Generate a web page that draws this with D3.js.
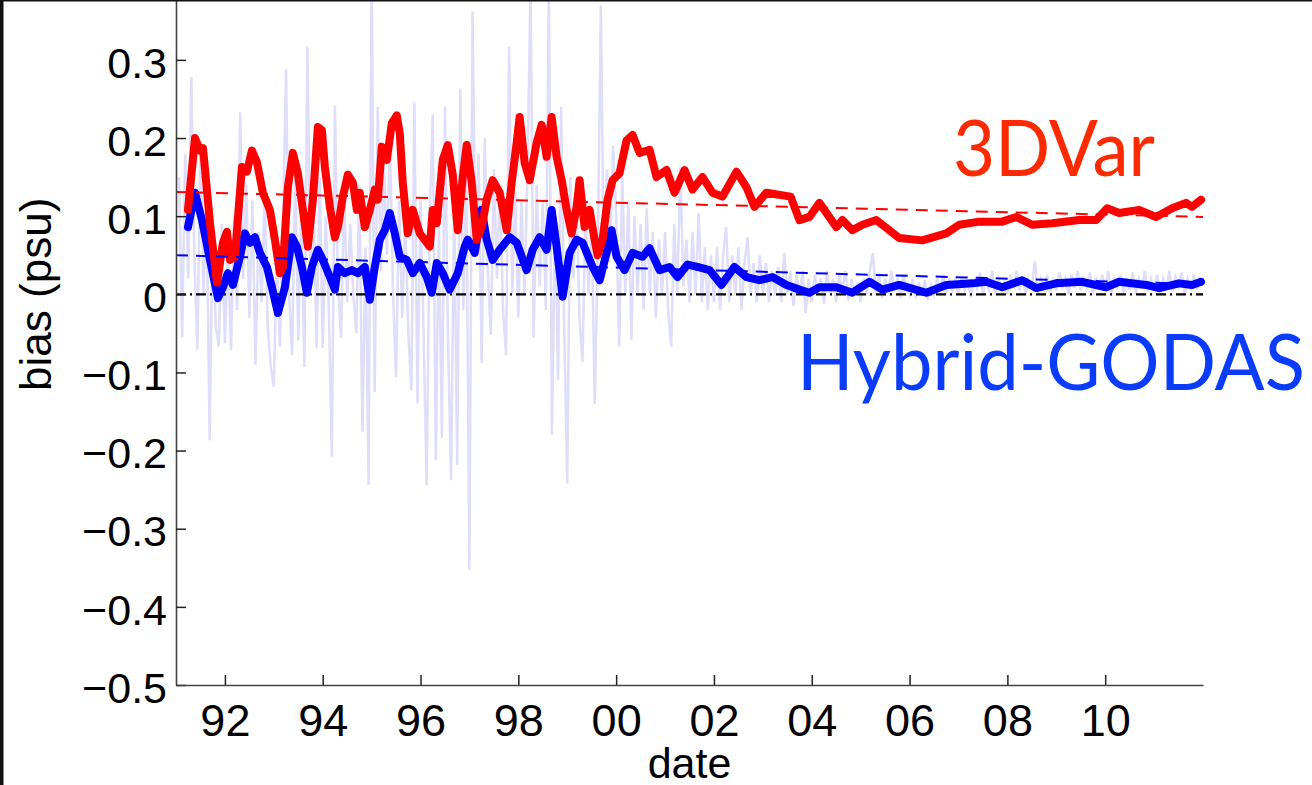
<!DOCTYPE html>
<html>
<head>
<meta charset="utf-8">
<script src="https://cdn.jsdelivr.net/npm/d3@7/dist/d3.min.js"></script>
<style>
body { margin: 0; background: #fff; }
svg { display: block; }
</style>
</head>
<body>
<div id="chart"></div>
<script>
'use strict';

// ticks
var xTicks = [1992, 1994, 1996, 1998, 2000, 2002, 2004, 2006, 2008, 2010];
var xTickLabels = ['92', '94', '96', '98', '00', '02', '04', '06', '08', '10'];
var yTicks = [-0.5, -0.4, -0.3, -0.2, -0.1, 0, 0.1, 0.2, 0.3];
var yTickLabels = ['\u22120.5', '\u22120.4', '\u22120.3', '\u22120.2', '\u22120.1', '0', '0.1', '0.2', '0.3'];

// 3DVar, smoothed bias
var redYears = [1991.245, 1991.388, 1991.49, 1991.552, 1991.695, 1991.838, 1991.96, 1992.042, 1992.103, 1992.205,
    1992.348, 1992.45, 1992.553, 1992.655, 1992.777, 1992.92, 1993.022, 1993.125, 1993.186, 1993.288,
    1993.39, 1993.492, 1993.594, 1993.696, 1993.799, 1993.901, 1993.983, 1994.044, 1994.146, 1994.248,
    1994.31, 1994.412, 1994.514, 1994.616, 1994.698, 1994.759, 1994.861, 1994.963, 1995.065, 1995.127,
    1995.208, 1995.311, 1995.413, 1995.515, 1995.576, 1995.637, 1995.739, 1995.842, 1995.985, 1996.128,
    1996.189, 1996.25, 1996.332, 1996.455, 1996.557, 1996.659, 1996.761, 1996.863, 1996.945, 1997.047,
    1997.149, 1997.251, 1997.353, 1997.476, 1997.619, 1997.762, 1997.864, 1997.966, 1998.027, 1998.13,
    1998.232, 1998.375, 1998.477, 1998.579, 1998.681, 1998.783, 1998.886, 1998.988, 1999.09, 1999.192,
    1999.253, 1999.355, 1999.457, 1999.559, 1999.621, 1999.723, 1999.825, 1999.928, 2000.07, 2000.213,
    2000.336, 2000.479, 2000.683, 2000.826, 2001.03, 2001.194, 2001.398, 2001.562, 2001.766, 2001.97,
    2002.175, 2002.461, 2002.665, 2002.828, 2003.073, 2003.568, 2003.748, 2003.952, 2004.156, 2004.504,
    2004.626, 2004.83, 2005.035, 2005.32, 2005.525, 2005.79, 2006.26, 2006.75, 2007.016, 2007.425,
    2007.894, 2008.18, 2008.507, 2008.916, 2009.468, 2009.815, 2010.04, 2010.285, 2010.693, 2011.04,
    2011.367, 2011.653, 2011.776, 2011.96];
var redBias = [0.108, 0.200, 0.184, 0.187, 0.091, 0.015, 0.066, 0.080, 0.044, 0.048,
    0.163, 0.157, 0.184, 0.169, 0.130, 0.108, 0.070, 0.027, 0.035, 0.137,
    0.181, 0.155, 0.108, 0.061, 0.121, 0.214, 0.210, 0.163, 0.112, 0.073,
    0.086, 0.125, 0.153, 0.143, 0.108, 0.130, 0.086, 0.108, 0.134, 0.121,
    0.189, 0.172, 0.219, 0.229, 0.206, 0.143, 0.078, 0.108, 0.078, 0.066,
    0.061, 0.108, 0.091, 0.172, 0.191, 0.153, 0.082, 0.150, 0.191, 0.143,
    0.070, 0.086, 0.121, 0.146, 0.130, 0.082, 0.143, 0.194, 0.227, 0.168,
    0.146, 0.194, 0.217, 0.176, 0.227, 0.176, 0.146, 0.108, 0.078, 0.112,
    0.146, 0.086, 0.108, 0.070, 0.050, 0.070, 0.121, 0.146, 0.155, 0.197,
    0.204, 0.181, 0.185, 0.150, 0.159, 0.130, 0.159, 0.134, 0.150, 0.130,
    0.125, 0.157, 0.137, 0.112, 0.130, 0.125, 0.095, 0.099, 0.117, 0.086,
    0.095, 0.082, 0.089, 0.095, 0.085, 0.072, 0.069, 0.078, 0.089, 0.093,
    0.093, 0.099, 0.089, 0.091, 0.095, 0.095, 0.110, 0.104, 0.108, 0.099,
    0.110, 0.117, 0.112, 0.121];

// Hybrid-GODAS, smoothed bias
var blueYears = [1991.245, 1991.388, 1991.531, 1991.695, 1991.858, 1991.96, 1992.062, 1992.164, 1992.307, 1992.41,
    1992.512, 1992.614, 1992.716, 1992.859, 1992.961, 1993.084, 1993.227, 1993.37, 1993.472, 1993.574,
    1993.676, 1993.778, 1993.901, 1994.003, 1994.146, 1994.248, 1994.31, 1994.452, 1994.595, 1994.718,
    1994.861, 1994.963, 1995.065, 1995.168, 1995.27, 1995.372, 1995.474, 1995.576, 1995.719, 1995.842,
    1995.985, 1996.128, 1996.23, 1996.332, 1996.455, 1996.598, 1996.761, 1996.904, 1996.965, 1997.108,
    1997.251, 1997.353, 1997.476, 1997.619, 1997.823, 1997.966, 1998.17, 1998.293, 1998.436, 1998.579,
    1998.681, 1998.783, 1998.906, 1999.049, 1999.192, 1999.314, 1999.519, 1999.662, 1999.805, 1999.907,
    2000.009, 2000.173, 2000.336, 2000.54, 2000.683, 2000.888, 2001.092, 2001.255, 2001.46, 2001.664,
    2001.909, 2002.154, 2002.42, 2002.665, 2002.93, 2003.196, 2003.482, 2003.748, 2003.952, 2004.156,
    2004.504, 2004.83, 2005.178, 2005.444, 2005.79, 2006.342, 2006.75, 2007.282, 2007.568, 2007.894,
    2008.303, 2008.589, 2008.998, 2009.529, 2010.019, 2010.285, 2010.836, 2011.102, 2011.51, 2011.776,
    2011.96];
var blueBias = [0.086, 0.130, 0.095, 0.044, -0.005, 0.009, 0.027, 0.012, 0.048, 0.078,
    0.066, 0.073, 0.053, 0.035, 0.009, -0.024, 0.009, 0.073, 0.061, 0.035,
    0.002, 0.035, 0.057, 0.044, 0.022, 0.006, 0.035, 0.027, 0.031, 0.027,
    0.035, -0.007, 0.035, 0.070, 0.082, 0.104, 0.078, 0.048, 0.044, 0.027,
    0.040, 0.022, 0.002, 0.040, 0.027, 0.006, 0.027, 0.061, 0.070, 0.053,
    0.108, 0.070, 0.044, 0.057, 0.073, 0.066, 0.031, 0.057, 0.073, 0.057,
    0.108, 0.061, -0.003, 0.053, 0.070, 0.066, 0.035, 0.018, 0.053, 0.082,
    0.048, 0.031, 0.053, 0.048, 0.059, 0.031, 0.035, 0.022, 0.038, 0.035,
    0.031, 0.012, 0.035, 0.022, 0.018, 0.022, 0.012, 0.006, 0.002, 0.009,
    0.009, 0.002, 0.016, 0.006, 0.012, 0.002, 0.012, 0.014, 0.016, 0.009,
    0.018, 0.008, 0.014, 0.016, 0.009, 0.016, 0.012, 0.008, 0.014, 0.012,
    0.016];

// Hybrid-GODAS raw bias, one value every 1/16 year from 1991.0625
var rawStart = 1991.0625;
var rawStep = 0.0625;
var rawBias = [
    0.15, -0.055, 0.18, 0.02, 0.278, 0.05, -0.071, 0.19, 0.0, 0.12, -0.187, 0.1, -0.04, -0.067, 0.09,
    -0.063, 0.06, -0.071, 0.1, -0.02, 0.233, 0.02, 0.14, -0.03, 0.12, -0.09, 0.08, -0.01, 0.13, -0.04, -0.093,
    -0.118, 0.05, -0.067, 0.09, 0.288, 0.0, -0.078, 0.16, -0.059, 0.11, -0.093, 0.317, 0.02, 0.12, -0.069, 0.15,
    -0.069, 0.1, -0.02, -0.208, 0.242, 0.01, -0.056, 0.13, -0.01, 0.09, 0.0, -0.05, 0.14, -0.176, 0.06, -0.244,
    0.42, -0.125, 0.24, 0.03, 0.17, 0.05, 0.2, 0.0, -0.106, 0.12, -0.03, 0.1, -0.05, -0.123, 0.246, -0.14,
    0.12, -0.05, -0.244, 0.1, 0.23, -0.212, 0.09, -0.184, 0.24, -0.06, -0.238, 0.12, -0.218, 0.263, -0.02, 0.15,
    -0.353, 0.362, 0.05, 0.18, -0.088, 0.2, 0.03, -0.052, 0.16, 0.02, 0.14, -0.02, -0.078, 0.317, 0.0, 0.13,
    -0.03, 0.12, 0.0, 0.16, 0.40, -0.056, 0.14, 0.01, 0.12, -0.02, 0.40, -0.18, 0.1, -0.11, 0.24, -0.04,
    -0.242, 0.15, 0.02, 0.13, -0.03, -0.087, 0.11, 0.0, 0.09, -0.14, 0.06, 0.37, 0.02, 0.16, 0.05, 0.19,
    0.1, -0.067, 0.15, 0.0, 0.12, -0.058, 0.1, 0.0, 0.09, -0.02, 0.11, 0.0, 0.08, -0.03, 0.07, 0.0,
    0.08, -0.02, -0.067, 0.09, 0.0, 0.163, 0.01, 0.07, -0.01, 0.08, 0.0, 0.104, -0.01, 0.06, -0.02, 0.05,
    -0.01, 0.06, -0.02, 0.05, 0.086, -0.01, 0.05, 0.0, 0.06, -0.02, 0.04, 0.073, 0.0, 0.04, -0.01, 0.05,
    0.0, 0.04, -0.01, 0.03, 0.0, 0.035, -0.01, 0.053, 0.0, 0.03, -0.015, 0.025, 0.0, 0.03, -0.024, 0.02,
    -0.01, 0.025, 0.0, 0.02, -0.012, 0.03, 0.0, 0.02, -0.01, 0.025, 0.005, 0.03, -0.008, 0.02, 0.0, 0.015,
    -0.01, 0.02, 0.0, 0.03, 0.053, 0.0, 0.025, -0.005, 0.02, 0.0, 0.03, 0.005, 0.02, -0.005, 0.025, 0.01,
    0.0, 0.02, -0.005, 0.015, 0.0, 0.018, -0.007, 0.012, 0.0, 0.02, 0.005, 0.025, 0.0, 0.018, 0.005, 0.02,
    0.0, 0.022, 0.005, 0.018, -0.004, 0.02, 0.008, 0.028, 0.002, 0.016, 0.006, 0.03, 0.0, 0.02, 0.008, 0.015,
    0.0, 0.025, 0.008, 0.03, 0.005, 0.02, 0.0, 0.018, 0.01, 0.042, 0.0, 0.02, 0.008, 0.025, 0.002, 0.02,
    0.005, 0.028, 0.01, 0.02, 0.0, 0.025, 0.008, 0.03, 0.005, 0.02, 0.01, 0.028, 0.0, 0.022, 0.006, 0.025,
    0.008, 0.03, 0.0, 0.02, 0.01, 0.025, 0.002, 0.018, 0.006, 0.028, 0.0, 0.02, 0.008, 0.03, 0.004, 0.02,
    0.006, 0.025, 0.0, 0.02, 0.008, 0.03, 0.004, 0.022, 0.01, 0.028, 0.0, 0.02, 0.008, 0.025, 0.006, 0.022
];

// linear trends and zero reference
var trendYears = [1991, 2012];
var redTrend = [0.131, 0.099];
var blueTrend = [0.050, 0.013];
var zeroLine = [0, 0];

var width = 1312;
var height = 785;
var margin = {left: 176, right: 109, bottom: 100};

var svg = d3.select('#chart').append('svg')
    .attr('width', width)
    .attr('height', height);

var xScale = d3.scaleLinear()
    .domain([1991, 2012])
    .range([margin.left, width - margin.right]);
var yScale = d3.scaleLinear()
    .domain([-0.5, 0.5])
    .range([height - margin.bottom, -96.4]);

function pairs(xs, ys) {
    return xs.map(function(x, i) { return [x, ys[i]]; });
}

var line = d3.line()
    .x(function(d) { return xScale(d[0]); })
    .y(function(d) { return yScale(d[1]); });

var rawData = rawBias.map(function(v, i) { return [rawStart + i * rawStep, v]; });

svg.append('path')
    .datum(rawData)
    .attr('d', line)
    .attr('fill', 'none')
    .attr('stroke', '#dedefa')
    .attr('stroke-width', 2.5);

svg.append('path')
    .datum(pairs(trendYears, zeroLine))
    .attr('d', line)
    .attr('fill', 'none')
    .attr('stroke', '#000')
    .attr('stroke-width', 2.2)
    .attr('stroke-dasharray', '10,4,2,4');

svg.append('path')
    .datum(pairs(blueYears, blueBias))
    .attr('d', line)
    .attr('fill', 'none')
    .attr('stroke', '#0000ff')
    .attr('stroke-width', 8)
    .attr('stroke-linejoin', 'round')
    .attr('stroke-linecap', 'round');

svg.append('path')
    .datum(pairs(redYears, redBias))
    .attr('d', line)
    .attr('fill', 'none')
    .attr('stroke', '#ff0000')
    .attr('stroke-width', 8)
    .attr('stroke-linejoin', 'round')
    .attr('stroke-linecap', 'round');

svg.append('path')
    .datum(pairs(trendYears, redTrend))
    .attr('d', line)
    .attr('fill', 'none')
    .attr('stroke', '#ff0000')
    .attr('stroke-width', 2)
    .attr('stroke-dasharray', '12,8');

svg.append('path')
    .datum(pairs(trendYears, blueTrend))
    .attr('d', line)
    .attr('fill', 'none')
    .attr('stroke', '#0000ff')
    .attr('stroke-width', 2)
    .attr('stroke-dasharray', '12,8');

// axes, ticks point inward like matlab
var yAxis = d3.axisLeft(yScale)
    .tickValues(yTicks)
    .tickFormat(function(d, i) { return yTickLabels[i]; })
    .tickSizeInner(-10)
    .tickSizeOuter(0)
    .tickPadding(9);
var xAxis = d3.axisBottom(xScale)
    .tickValues(xTicks)
    .tickFormat(function(d, i) { return xTickLabels[i]; })
    .tickSizeInner(-10)
    .tickSizeOuter(0)
    .tickPadding(19);

var yAxisEle = svg.append('g')
    .attr('transform', 'translate(' + margin.left + ',0)')
    .call(yAxis);
yAxisEle.selectAll('text')
    .attr('dy', '0.4em')
    .style('font', '43px "Liberation Sans", Arial, Helvetica, sans-serif')
    .attr('fill', '#000');

var xAxisEle = svg.append('g')
    .attr('transform', 'translate(0,' + (height - margin.bottom) + ')')
    .call(xAxis);
xAxisEle.selectAll('text')
    .style('font', '45px "Liberation Sans", Arial, Helvetica, sans-serif')
    .attr('fill', '#000');

svg.selectAll('.domain').attr('stroke', '#444').attr('stroke-width', 1.6);
svg.selectAll('.tick line').attr('stroke', '#222').attr('stroke-width', 1.5);

svg.append('text')
    .attr('x', (margin.left + width - margin.right) / 2)
    .attr('y', 778)
    .attr('text-anchor', 'middle')
    .style('font', '43px "Liberation Sans", Arial, Helvetica, sans-serif')
    .text('date');

svg.append('text')
    .attr('transform', 'translate(51,' + yScale(0) + ') rotate(-90)')
    .attr('text-anchor', 'middle')
    .style('font', '44px "Liberation Sans", Arial, Helvetica, sans-serif')
    .text('bias (psu)');

// series labels
svg.append('text')
    .attr('x', 953)
    .attr('y', 176)
    .attr('textLength', 202)
    .attr('lengthAdjust', 'spacingAndGlyphs')
    .attr('fill', '#ff2a00')
    .style('font', '78px Lato, "Open Sans", sans-serif')
    .text('3DVar');

svg.append('text')
    .attr('x', 797)
    .attr('y', 390)
    .attr('textLength', 508)
    .attr('lengthAdjust', 'spacingAndGlyphs')
    .attr('fill', '#0a3cff')
    .style('font', '78px Lato, "Open Sans", sans-serif')
    .text('Hybrid-GODAS');

// frame edges of the cropped figure
svg.append('rect').attr('x', 0).attr('y', 0).attr('width', width).attr('height', 1.5).attr('fill', '#111');
svg.append('rect').attr('x', 0).attr('y', 0).attr('width', 3.5).attr('height', height).attr('fill', '#111');
</script>
</body>
</html>
